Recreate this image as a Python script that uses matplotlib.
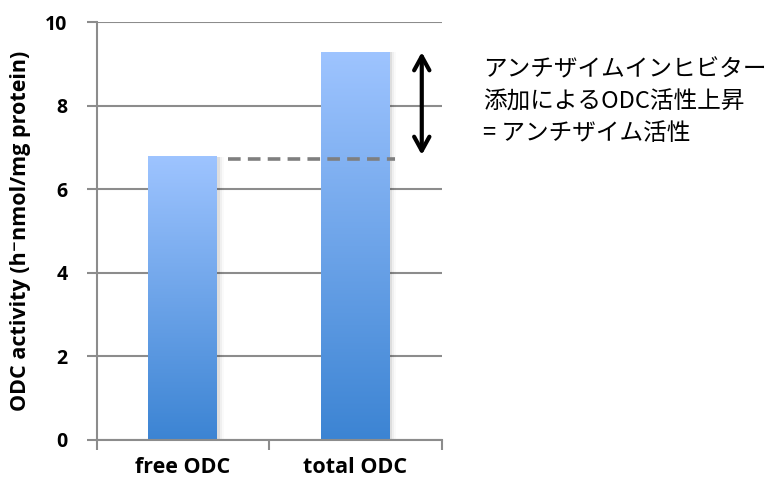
import matplotlib

matplotlib.use("Agg")
import matplotlib.pyplot as plt
import numpy as np
from matplotlib.colors import LinearSegmentedColormap

# data
categories = ["free ODC", "total ODC"]
activity = [6.78, 9.28]
baseline = 6.72          # dashed reference level (free ODC)
y_ticks = [0, 2, 4, 6, 8, 10]
note_lines = ["アンチザイムインヒビター", "添加によるODC活性上昇", "= アンチザイム活性"]

axis_grey = "#8c8c8c"
lat_font = ["Open Sans", "DejaVu Sans"]
grad = LinearSegmentedColormap.from_list("bar", ["#3c84d3", "#9ec4ff"])

fig = plt.figure(figsize=(7.68, 4.86), dpi=100)
ax = fig.add_axes([0.126, 0.0947, 0.449, 0.860])

x = np.arange(len(categories))
width = 0.4
bars = ax.bar(x, activity, width=width, color="none", zorder=2)
g = np.linspace(0, 1, 256).reshape(-1, 1)
for b in bars:
    x0, w, h = b.get_x(), b.get_width(), b.get_height()
    # soft shadow on the right
    for k, a in enumerate([0.07, 0.04, 0.02]):
        ax.add_patch(plt.Rectangle((x0 + w, 0), 0.012 * (k + 1), h,
                                   color="black", alpha=a, lw=0, zorder=1.5))
    ax.imshow(g, cmap=grad, origin="lower", aspect="auto",
              extent=(x0, x0 + w, 0, h), zorder=2)

ax.set_xlim(-0.5, 1.5)
ax.set_ylim(0, 10)

# dashed level + double arrow
ax.plot([0.26, 1.23], [baseline, baseline], ls=(0, (3.5, 2)), lw=2.6,
        color="#7f7f7f", zorder=3)
ax.annotate("", xy=(1.385, activity[1]), xytext=(1.385, 6.82),
            arrowprops=dict(arrowstyle="<->,head_width=0.55,head_length=1.0",
                            lw=3.0, color="black", shrinkA=0, shrinkB=0),
            zorder=4)

ax.set_yticks(y_ticks)
ax.set_yticklabels([str(t) for t in y_ticks], fontweight="bold", fontsize=14,
                   family=lat_font)
ax.yaxis.grid(True, color=axis_grey, lw=1.5, zorder=0)
ax.set_axisbelow(True)
ax.tick_params(axis="y", length=7, width=1.5, color=axis_grey, pad=14)

ax.set_xticks(x)
ax.set_xticklabels(categories, fontweight="bold", fontsize=15.5, family=lat_font)
ax.set_xticks([-0.5, 0.5, 1.5], minor=True)
ax.tick_params(axis="x", which="major", length=0, pad=12)
ax.tick_params(axis="x", which="minor", length=7, width=1.5, color=axis_grey)

for s in ["top", "right"]:
    ax.spines[s].set_visible(False)
for s in ["left", "bottom"]:
    ax.spines[s].set_color(axis_grey)
    ax.spines[s].set_linewidth(1.5)

ax.set_ylabel("ODC activity (h\u207bnmol/mg protein)", fontweight="bold",
              fontsize=15.5, family=lat_font, labelpad=10)

for i, line in enumerate(note_lines):
    fig.text(483 / 768, 1 - (70 + 32 * i) / 486, line, fontsize=17,
             family=["Noto Sans CJK JP", "DejaVu Sans"], va="center", ha="left")

fig.savefig("out.png", dpi=100)
